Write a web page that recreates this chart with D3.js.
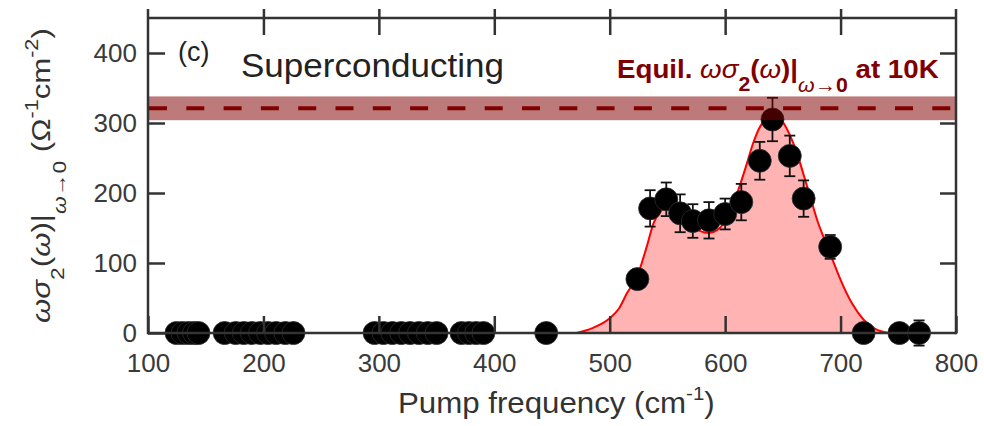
<!DOCTYPE html>
<html>
<head>
<meta charset="utf-8">
<script src="https://cdn.jsdelivr.net/npm/d3@7"></script>
<style>
  html, body { margin: 0; padding: 0; background: #fff; }
  svg { display: block; font-family: "Liberation Sans", Arial, Helvetica, sans-serif; }
</style>
</head>
<body>
<svg id="chart" width="984" height="426"></svg>
<script>
// Pump frequency (cm^-1) of each measurement
const pumpFreq = [
  124.7, 129.9, 135.1, 139.8, 143.7,
  166.4, 176, 183, 190, 197, 204, 211, 219, 226,
  296.3, 304, 311.7, 319.4, 327, 334.7, 342.4, 350,
  371.6, 378, 384.3, 390.6,
  445,
  524, 535, 549, 561, 572, 586, 600, 614, 630, 641, 656, 668, 691,
  720, 751, 768
];
// ωσ2(ω)|ω→0 in Ω^-1 cm^-2
const sigmaValue = [
  0, 0, 0, 0, 0,
  0, 0, 0, 0, 0, 0, 0, 0, 0,
  0, 0, 0, 0, 0, 0, 0, 0,
  0, 0, 0, 0,
  0,
  77, 178, 191, 171, 160, 161, 170, 187, 246, 305, 253, 192, 123,
  0, 0, 0
];
const sigmaError = [
  0, 0, 0, 0, 0,
  0, 0, 0, 0, 0, 0, 0, 0, 0,
  0, 0, 0, 0, 0, 0, 0, 0,
  0, 0, 0, 0,
  0,
  0, 26, 24, 27, 24, 26, 22, 26, 27, 31, 29, 26, 17,
  0, 0, 18
];

// Fitted lineshape
const fitFreq  = [471, 485, 500, 508, 515, 524, 532, 538, 544, 550, 556, 562, 570, 578, 586, 593, 600, 607, 613, 619, 624, 630, 636, 641, 646, 651, 656, 662, 668, 674, 680, 686, 692, 700, 710, 720, 730, 742];
const fitValue = [0, 7, 21, 35, 57, 82, 123, 157, 174, 180, 177, 168, 155, 146, 143, 147, 160, 185, 212, 243, 270, 294, 307, 312, 309, 299, 283, 258, 226, 193, 160, 134, 109, 76, 42, 19, 6, 0];

// Equilibrium value at 10 K and its uncertainty band
const equilValue = [321];
const equilBand = [304, 338];

const xTicks = [100, 200, 300, 400, 500, 600, 700, 800];
const yTicks = [0, 100, 200, 300, 400];

const svg = d3.select("#chart");
const mLeft = 148, mRight = 956, mTop = 18, mBottom = 333, spineTop = 9;

const x = d3.scaleLinear().domain([100, 800]).range([mLeft, mRight]);
const y = d3.scaleLinear().domain([0, 450]).range([mBottom, mTop]);

const axisColor = "#333";
const darkRed = "#800000";

// stretch a text element horizontally so that it spans [x0, x1]
function fitSpan(sel, x0, x1) {
  const b = sel.node().getBBox();
  const s = (x1 - x0) / b.width;
  sel.attr("transform", `translate(${x0},0) scale(${s},1) translate(${-b.x},0)`);
}

// fitted area and curve
const area = d3.area()
  .x((d, i) => x(fitFreq[i]))
  .y0(y(0))
  .y1((d, i) => y(fitValue[i]))
  .curve(d3.curveMonotoneX);
const line = d3.line()
  .x((d, i) => x(fitFreq[i]))
  .y((d, i) => y(fitValue[i]))
  .curve(d3.curveMonotoneX);

svg.append("path").datum(fitValue).attr("d", area).attr("fill", "#ffb3b3");
svg.append("path").datum(fitValue).attr("d", line)
  .attr("fill", "none").attr("stroke", "#ff0000").attr("stroke-width", 2);

// measurements with error bars
const pts = pumpFreq.map((f, i) => ({ f, v: sigmaValue[i], e: sigmaError[i] }));
const eb = svg.append("g").attr("stroke", "#111").attr("stroke-width", 1.8);
pts.filter(d => d.e > 0).forEach(d => {
  const cx = x(d.f), y1 = y(d.v + d.e), y2 = y(d.v - d.e);
  eb.append("line").attr("x1", cx).attr("x2", cx).attr("y1", y1).attr("y2", y2);
  eb.append("line").attr("x1", cx - 5.5).attr("x2", cx + 5.5).attr("y1", y1).attr("y2", y1);
  eb.append("line").attr("x1", cx - 5.5).attr("x2", cx + 5.5).attr("y1", y2).attr("y2", y2);
});
svg.append("g").selectAll("circle").data(pts).join("circle")
  .attr("cx", d => x(d.f)).attr("cy", d => y(d.v)).attr("r", 11.5)
  .attr("fill", "#000").attr("stroke", "#2e2e2e").attr("stroke-width", 0.8);

// equilibrium band and dashed level
svg.append("rect")
  .attr("x", mLeft).attr("width", mRight - mLeft)
  .attr("y", y(equilBand[1])).attr("height", y(equilBand[0]) - y(equilBand[1]))
  .attr("fill", darkRed).attr("fill-opacity", 0.52);
svg.append("line")
  .attr("x1", mLeft + 1).attr("x2", mRight).attr("y1", y(equilValue[0])).attr("y2", y(equilValue[0]))
  .attr("stroke", darkRed).attr("stroke-width", 4).attr("stroke-dasharray", "18,19.3");

// axes (ticks point inward)
const tickFont = g => g.selectAll("text")
  .attr("font-size", 26).attr("fill", "#3a3a3a")
  .attr("font-family", "'Liberation Sans', Arial, sans-serif");
const tickStroke = g => g.selectAll("line").attr("stroke", axisColor).attr("stroke-width", 2.5);

const gx = svg.append("g").attr("transform", `translate(0,${mBottom})`)
  .call(d3.axisBottom(x).tickValues(xTicks).tickSizeInner(-17).tickSizeOuter(0).tickPadding(20.5).tickFormat(d3.format("d")));
gx.select(".domain").remove(); gx.call(tickStroke).call(tickFont);

const gy = svg.append("g").attr("transform", `translate(${mLeft},0)`)
  .call(d3.axisLeft(y).tickValues(yTicks).tickSizeInner(-17).tickSizeOuter(0).tickPadding(11).tickFormat(d3.format("d")));
gy.select(".domain").remove(); gy.call(tickStroke).call(tickFont);

const gt = svg.append("g").attr("transform", `translate(0,${spineTop})`)
  .call(d3.axisTop(x).tickValues(xTicks.slice(1, -1)).tickSizeInner(-26).tickSizeOuter(0).tickFormat(""));
gt.select(".domain").remove(); gt.call(tickStroke);

const gr = svg.append("g").attr("transform", `translate(${mRight},0)`)
  .call(d3.axisRight(y).tickValues(yTicks.slice(1)).tickSizeInner(-16).tickSizeOuter(0).tickFormat(""));
gr.select(".domain").remove(); gr.call(tickStroke);

const frame = svg.append("g").attr("stroke", axisColor).attr("stroke-width", 2.5).attr("fill", "none");
frame.append("line").attr("x1", mLeft).attr("x2", mLeft).attr("y1", spineTop).attr("y2", mBottom + 1.2);
frame.append("line").attr("x1", mRight).attr("x2", mRight).attr("y1", spineTop).attr("y2", mBottom + 1.2);
frame.append("line").attr("x1", mLeft).attr("x2", mRight).attr("y1", mBottom).attr("y2", mBottom);
frame.append("line").attr("x1", mLeft).attr("x2", mRight).attr("y1", mTop).attr("y2", mTop);

// x-axis title
const xt = svg.append("text").attr("fill", "#333").attr("font-size", 29).attr("x", 0).attr("y", 413);
xt.append("tspan").text("Pump frequency (cm");
xt.append("tspan").attr("dy", -13).attr("font-size", 19).text("-1");
xt.append("tspan").attr("dy", 13).text(")");
fitSpan(xt, 398, 715);

// y-axis title (rotated)
const yt = svg.append("g").attr("transform", "translate(50,0) rotate(-90)")
  .append("text").attr("fill", "#333").attr("font-size", 26).attr("x", 0).attr("y", 0);
yt.append("tspan").attr("font-style", "italic").text("ωσ");
yt.append("tspan").attr("dy", 14).attr("font-size", 19).text("2");
yt.append("tspan").attr("dy", -14).text("(");
yt.append("tspan").attr("font-style", "italic").text("ω");
yt.append("tspan").text(")|");
yt.append("tspan").attr("dy", 16).attr("font-size", 19).attr("font-style", "italic").text("ω→");
yt.append("tspan").attr("font-size", 19).text("0");
yt.append("tspan").attr("dy", -16).text(" (Ω");
yt.append("tspan").attr("dy", -12).attr("font-size", 18).text("-1");
yt.append("tspan").attr("dy", 12).text("cm");
yt.append("tspan").attr("dy", -12).attr("font-size", 18).text("-2");
yt.append("tspan").attr("dy", 12).text(")");
fitSpan(yt, -323, -28);

// panel tag and phase label
svg.append("text").attr("x", 178).attr("y", 61).attr("font-size", 27).attr("fill", "#222").text("(c)");
svg.append("text").attr("x", 241).attr("y", 77).attr("font-size", 34).attr("fill", "#222")
  .attr("textLength", 263).attr("lengthAdjust", "spacingAndGlyphs").text("Superconducting");

// equilibrium annotation
const eq = svg.append("text").attr("fill", darkRed).attr("font-size", 26).attr("font-weight", "bold").attr("x", 0).attr("y", 78);
eq.append("tspan").text("Equil. ");
eq.append("tspan").attr("font-style", "italic").attr("font-weight", "normal").text("ωσ");
eq.append("tspan").attr("dy", 13).attr("font-size", 20).text("2");
eq.append("tspan").attr("dy", -13).text("(");
eq.append("tspan").attr("font-style", "italic").attr("font-weight", "normal").text("ω");
eq.append("tspan").text(")|");
eq.append("tspan").attr("dy", 14).attr("font-size", 20).attr("font-style", "italic").attr("font-weight", "normal").text("ω→");
eq.append("tspan").attr("font-size", 20).text("0");
eq.append("tspan").attr("dy", -14).text(" at 10K");
fitSpan(eq, 617, 939);
</script>
</body>
</html>
